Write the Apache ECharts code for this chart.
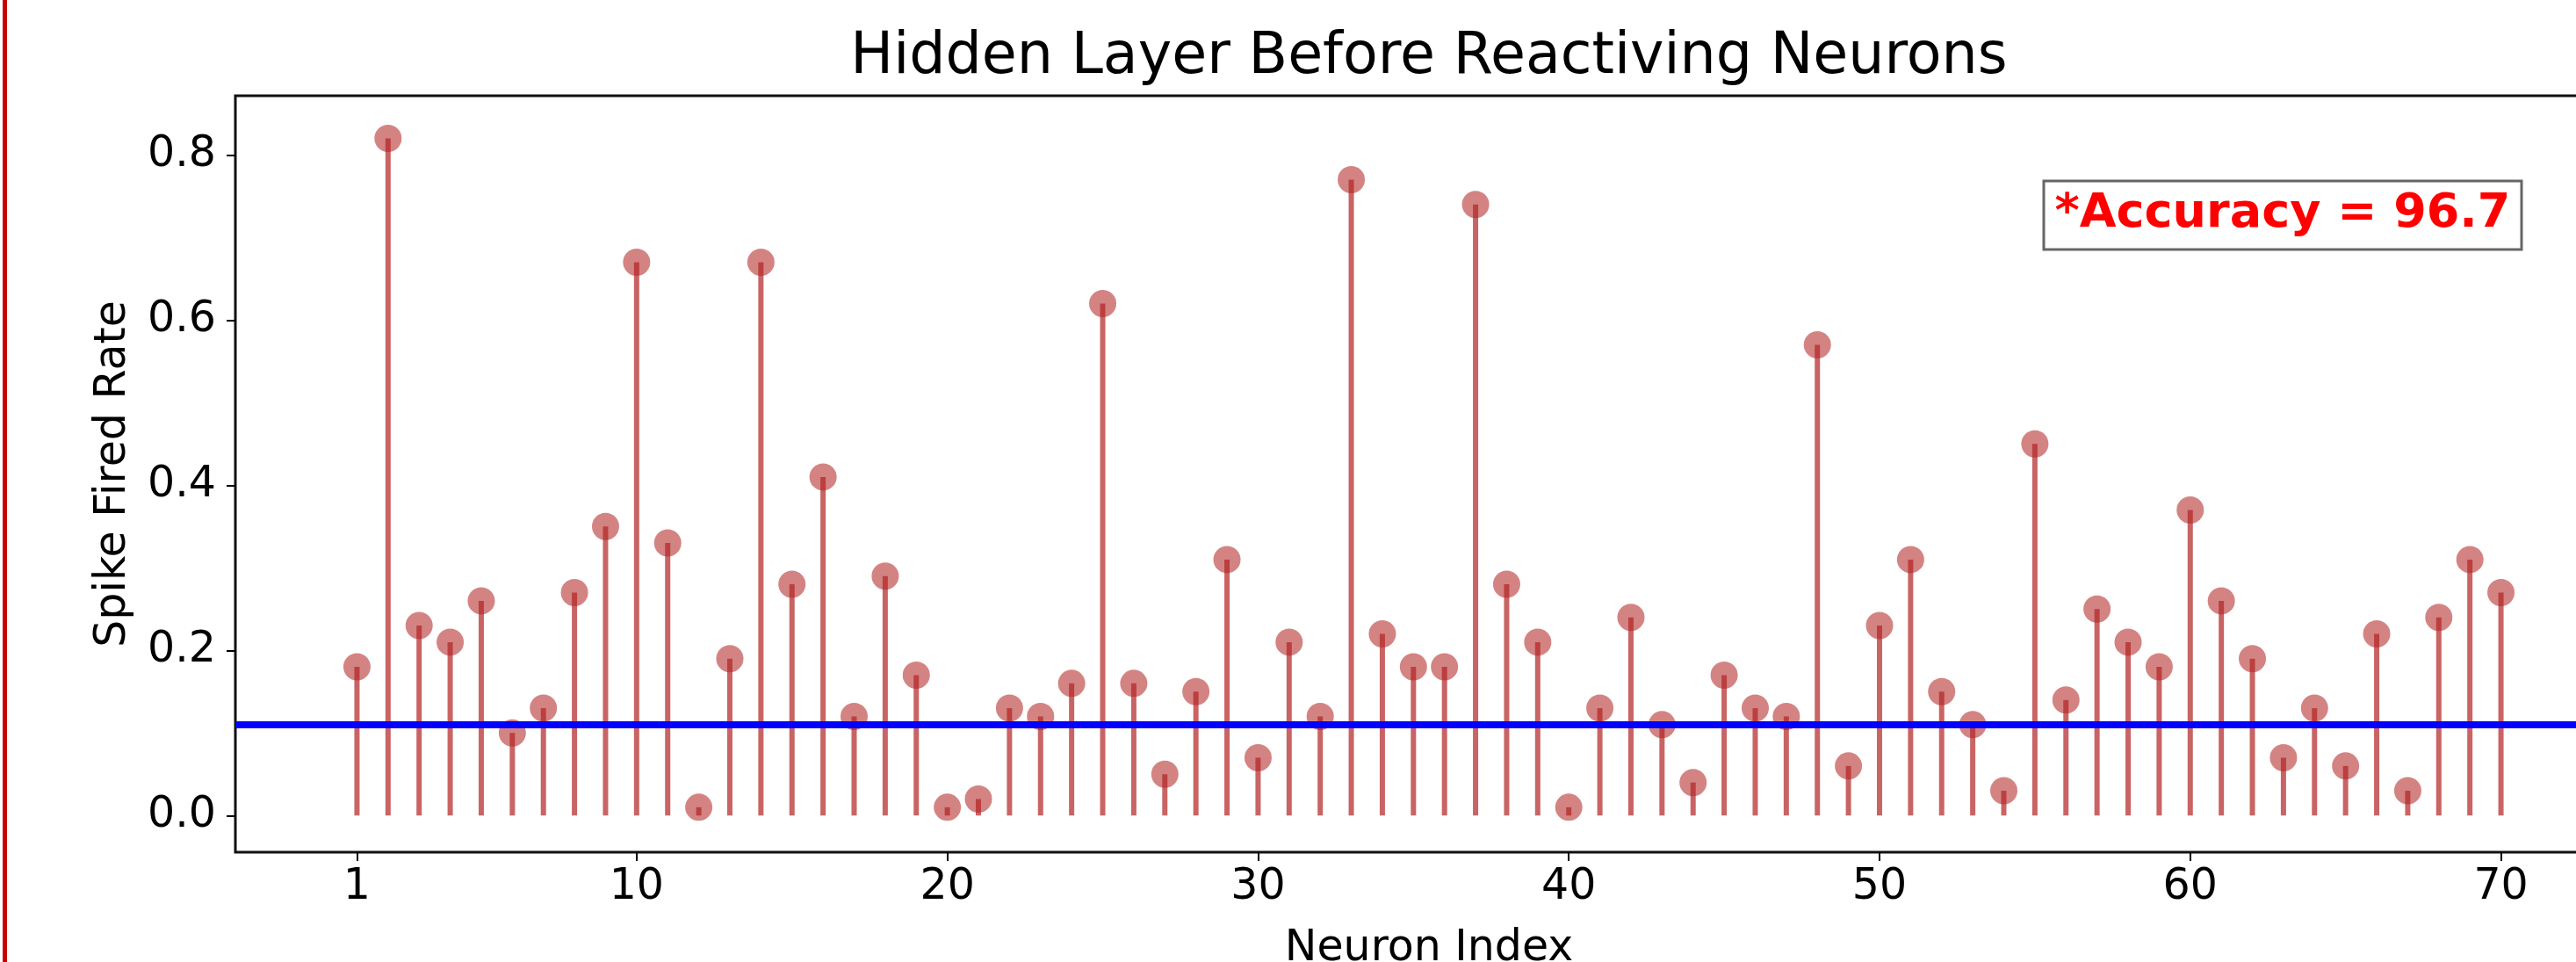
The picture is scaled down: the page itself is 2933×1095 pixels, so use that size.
<!DOCTYPE html>
<html>
<head>
<meta charset="utf-8">
<title>Hidden Layer Before Reactiving Neurons</title>
<script src="https://cdn.jsdelivr.net/npm/echarts@6.0.0/dist/echarts.min.js"></script>
<style>
    html, body { margin: 0; padding: 0; background: #fff; }
    #chart { width: 2933px; height: 1095px; }
</style>
</head>
<body>
<div id="chart"></div>
<script>
/* ------------------------------------ data ------------------------------------ */
let neuronIndex = [
    1, 2, 3, 4, 5, 6, 7, 8, 9, 10,
    11, 12, 13, 14, 15, 16, 17, 18, 19, 20,
    21, 22, 23, 24, 25, 26, 27, 28, 29, 30,
    31, 32, 33, 34, 35, 36, 37, 38, 39, 40,
    41, 42, 43, 44, 45, 46, 47, 48, 49, 50,
    51, 52, 53, 54, 55, 56, 57, 58, 59, 60,
    61, 62, 63, 64, 65, 66, 67, 68, 69, 70
];
let firedRate = [
    0.18, 0.82, 0.23, 0.21, 0.26, 0.10, 0.13, 0.27, 0.35, 0.67,
    0.33, 0.01, 0.19, 0.67, 0.28, 0.41, 0.12, 0.29, 0.17, 0.01,
    0.02, 0.13, 0.12, 0.16, 0.62, 0.16, 0.05, 0.15, 0.31, 0.07,
    0.21, 0.12, 0.77, 0.22, 0.18, 0.18, 0.74, 0.28, 0.21, 0.01,
    0.13, 0.24, 0.11, 0.04, 0.17, 0.13, 0.12, 0.57, 0.06, 0.23,
    0.31, 0.15, 0.11, 0.03, 0.45, 0.14, 0.25, 0.21, 0.18, 0.37,
    0.26, 0.19, 0.07, 0.13, 0.06, 0.22, 0.03, 0.24, 0.31, 0.27
];
let threshold = 0.11;                       // blue horizontal line
let xTicks = [1, 10, 20, 30, 40, 50, 60, 70];
let yTicks = [0, 0.2, 0.4, 0.6, 0.8];
let accuracyText = '*Accuracy = 96.7';

let points = neuronIndex.map((n, i) => [n, firedRate[i]]);

/* ------------------------------------ style ------------------------------------ */
let FONT = 'DejaVu Sans';
let stemColor = 'rgba(178, 34, 34, 0.7)';   // firebrick, alpha 0.7

let option = {
    animation: false,
    backgroundColor: '#fff',
    textStyle: { fontFamily: FONT, color: '#000' },
    grid: {
        left: 268,
        top: 109,
        right: -53,                          // right side of the frame is cut off in the picture
        bottom: 125,
        outerBoundsMode: 'none',
        containLabel: false,
        show: true,
        borderColor: '#111',
        borderWidth: 3,
        backgroundColor: 'transparent'
    },
    xAxis: {
        type: 'value',
        min: -2.913,
        max: 73.913,
        name: 'Neuron Index',
        nameLocation: 'middle',
        nameGap: 86,
        nameTextStyle: { fontFamily: FONT, fontSize: 49, color: '#000' },
        axisLine: { show: false, onZero: false },
        splitLine: { show: false },
        axisTick: {
            show: true, inside: false, length: 10,
            customValues: xTicks,
            lineStyle: { color: '#000', width: 2 }
        },
        axisLabel: {
            customValues: xTicks,
            margin: 16,
            fontFamily: FONT, fontSize: 49, color: '#000'
        }
    },
    yAxis: {
        type: 'value',
        min: -0.0444,
        max: 0.8716,
        name: 'Spike Fired Rate',
        nameLocation: 'middle',
        nameGap: 114,
        nameTextStyle: { fontFamily: FONT, fontSize: 49, color: '#000' },
        axisLine: { show: false, onZero: false },
        splitLine: { show: false },
        axisTick: {
            show: true, inside: false, length: 10,
            customValues: yTicks,
            lineStyle: { color: '#000', width: 2 }
        },
        axisLabel: {
            customValues: yTicks,
            margin: 22,
            fontFamily: FONT, fontSize: 49, color: '#000',
            formatter: v => v.toFixed(1)
        }
    },
    graphic: [
        {
            // red frame line on the left edge of the picture
            type: 'rect', left: 3, top: 0, z: 100,
            shape: { width: 5, height: 1095 },
            style: { fill: '#c80000' }
        },
        {
            type: 'text', x: 1627, y: 66, z: 100,
            style: {
                text: 'Hidden Layer Before Reactiving Neurons',
                font: '65px "DejaVu Sans"',
                fill: '#000', align: 'center', verticalAlign: 'middle'
            }
        },
        {
            type: 'rect', x: 2327, y: 206, z: 100,
            shape: { width: 544, height: 78 },
            style: { fill: '#fff', stroke: '#666', lineWidth: 3 }
        },
        {
            type: 'text', x: 2599, y: 244, z: 101,
            style: {
                text: accuracyText,
                font: 'bold 54px "DejaVu Sans"',
                fill: '#ff0000', align: 'center', verticalAlign: 'middle'
            }
        }
    ],
    series: [
        {
            // stems
            type: 'custom',
            z: 2,
            data: points,
            renderItem: function (params, api) {
                let p0 = api.coord([api.value(0), 0]);
                let p1 = api.coord([api.value(0), api.value(1)]);
                return {
                    type: 'line',
                    shape: { x1: p0[0], y1: p0[1], x2: p1[0], y2: p1[1] },
                    style: { stroke: stemColor, lineWidth: 6 }
                };
            }
        },
        {
            // heads
            type: 'scatter',
            z: 3,
            data: points,
            symbol: 'circle',
            symbolSize: 31,
            itemStyle: { color: stemColor },
            emphasis: { disabled: true }
        },
        {
            // threshold line
            type: 'line',
            z: 5,
            data: [],
            markLine: {
                silent: true,
                symbol: 'none',
                label: { show: false },
                lineStyle: { color: '#0000ff', width: 8, type: 'solid' },
                data: [{ yAxis: threshold }]
            }
        }
    ]
};

let chart = echarts.init(document.querySelector('#chart'));
chart.setOption(option);
</script>
</body>
</html>
